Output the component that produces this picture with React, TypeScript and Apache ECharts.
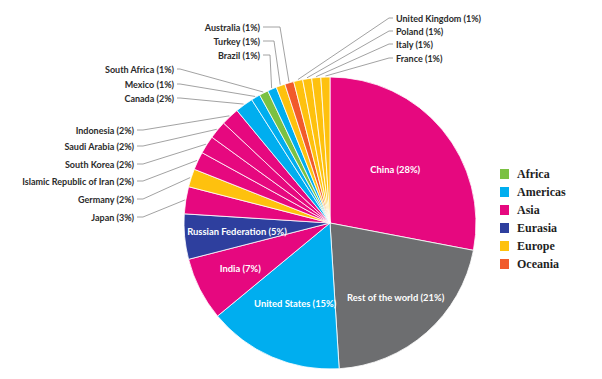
import React, { useEffect, useRef } from "react";
import * as echarts from "echarts";

// ---- data ----
const countries = [
  "China", "Rest of the world", "United States", "India", "Russian Federation",
  "Japan", "Germany", "Islamic Republic of Iran", "South Korea", "Saudi Arabia",
  "Indonesia", "Canada", "Mexico", "South Africa", "Brazil", "Turkey",
  "Australia", "United Kingdom", "Poland", "Italy", "France",
];
const shares = [28, 21, 15, 7, 5, 3, 2, 2, 2, 2, 2, 2, 1, 1, 1, 1, 1, 1, 1, 1, 1];
const regionOf = [
  "Asia", "World", "Americas", "Asia", "Eurasia",
  "Asia", "Europe", "Asia", "Asia", "Asia",
  "Asia", "Americas", "Americas", "Africa", "Americas", "Europe",
  "Oceania", "Europe", "Europe", "Europe", "Europe",
];
const regions = ["Africa", "Americas", "Asia", "Eurasia", "Europe", "Oceania"];

// ---- styles / layout ----
const REGION_COLORS: Record<string, string> = {
  Africa: "#7BC143",
  Americas: "#00AEEF",
  Asia: "#E6087F",
  Eurasia: "#2E3F9E",
  Europe: "#FEC10E",
  Oceania: "#F15A2B",
  World: "#6D6E70",
};
const CENTER: [number, number] = [330, 223];
const RADIUS = 146;

// labels drawn inside the slice: radial position as fraction of radius
const INSIDE_FACTOR: Record<string, number> = {
  China: 0.58,
  "Rest of the world": 0.68,
  "United States": 0.6,
  India: 0.69,
  "Russian Federation": 0.64,
};

// outer labels: anchor x, y, alignment and elbow x of leader line
const OUTER: Record<string, { x: number; y: number; align: "left" | "right"; knee: number }> = {
  Japan: { x: 134, y: 217, align: "right", knee: 143 },
  Germany: { x: 134, y: 199, align: "right", knee: 143 },
  "Islamic Republic of Iran": { x: 134, y: 181, align: "right", knee: 143 },
  "South Korea": { x: 134, y: 164, align: "right", knee: 143 },
  "Saudi Arabia": { x: 134, y: 146, align: "right", knee: 143 },
  Indonesia: { x: 134, y: 130, align: "right", knee: 143 },
  Canada: { x: 174, y: 98, align: "right", knee: 180 },
  Mexico: { x: 174, y: 84, align: "right", knee: 180 },
  "South Africa": { x: 174, y: 69, align: "right", knee: 180 },
  Brazil: { x: 260, y: 55, align: "right", knee: 270 },
  Turkey: { x: 260, y: 41, align: "right", knee: 274 },
  Australia: { x: 260, y: 27, align: "right", knee: 280 },
  "United Kingdom": { x: 396, y: 18, align: "left", knee: 389 },
  Poland: { x: 396, y: 31, align: "left", knee: 389 },
  Italy: { x: 396, y: 44, align: "left", knee: 389 },
  France: { x: 396, y: 58, align: "left", knee: 389 },
};

const LABEL_FONT = "Lato, 'Noto Sans', sans-serif";

export default function App() {
  const ref = useRef<HTMLDivElement>(null);

  useEffect(() => {
    if (!ref.current) return;
    const chart = echarts.init(ref.current, undefined, { renderer: "svg" });

    const total = shares.reduce((a, b) => a + b, 0);
    const midAngles: number[] = [];
    let cum = 0;
    shares.forEach((v) => {
      midAngles.push(((cum + v / 2) / total) * Math.PI * 2);
      cum += v;
    });

    const data = countries.map((name, i) => {
      const inside = INSIDE_FACTOR[name] != null;
      return {
        name,
        value: shares[i],
        itemStyle: { color: REGION_COLORS[regionOf[i]] },
        label: inside
          ? { position: "inside", color: "#ffffff", fontSize: 9.4 }
          : { position: "outside", color: "#2b2b2b", fontSize: 9 },
        labelLine: { show: !inside },
      };
    });

    chart.setOption({
      animation: false,
      backgroundColor: "#ffffff",
      legend: {
        orient: "vertical",
        left: 495,
        top: 163,
        icon: "rect",
        itemWidth: 9,
        itemHeight: 10,
        itemGap: 6,
        selectedMode: false,
        data: regions,
        textStyle: {
          fontFamily: "'Liberation Serif', 'DejaVu Serif', serif",
          fontWeight: "bold",
          fontSize: 12,
          color: "#1f1f1f",
          padding: [0, 0, 0, 3],
        },
      },
      series: [
        {
          type: "pie",
          center: CENTER,
          radius: RADIUS,
          startAngle: 90,
          clockwise: true,
          avoidLabelOverlap: false,
          silent: true,
          data,
          itemStyle: { borderColor: "#ffffff", borderWidth: 0.8 },
          label: {
            show: true,
            formatter: (p: any) => `${p.name} (${p.value}%)`,
            fontFamily: LABEL_FONT,
            fontWeight: "bold",
          },
          labelLine: {
            show: true,
            lineStyle: { color: "#8a8a8a", width: 0.8 },
          },
          labelLayout: (p: any) => {
            const i = p.dataIndex;
            const name = countries[i];
            const a = midAngles[i];
            const f = INSIDE_FACTOR[name];
            if (f != null) {
              return {
                x: CENTER[0] + Math.sin(a) * RADIUS * f,
                y: CENTER[1] - Math.cos(a) * RADIUS * f,
                align: "center",
                verticalAlign: "middle",
              };
            }
            const o = OUTER[name];
            const ex = CENTER[0] + Math.sin(a) * (RADIUS + 1);
            const ey = CENTER[1] - Math.cos(a) * (RADIUS + 1);
            const endX = o.align === "right" ? o.x + 3 : o.x - 3;
            return {
              x: o.x,
              y: o.y,
              align: o.align,
              verticalAlign: "middle",
              labelLinePoints: [
                [ex, ey],
                [o.knee, o.y],
                [endX, o.y],
              ],
            };
          },
        },
        {
          type: "pie",
          center: CENTER,
          radius: [0, 0],
          silent: true,
          stillShowZeroSum: false,
          label: { show: false },
          labelLine: { show: false },
          data: regions.map((r) => ({
            name: r,
            value: 0,
            itemStyle: { color: REGION_COLORS[r] },
          })),
        },
      ],
    });

    return () => chart.dispose();
  }, []);

  return (
    <div
      ref={ref}
      style={{ position: "fixed", left: 0, top: 0, width: 602, height: 379 }}
    />
  );
}
